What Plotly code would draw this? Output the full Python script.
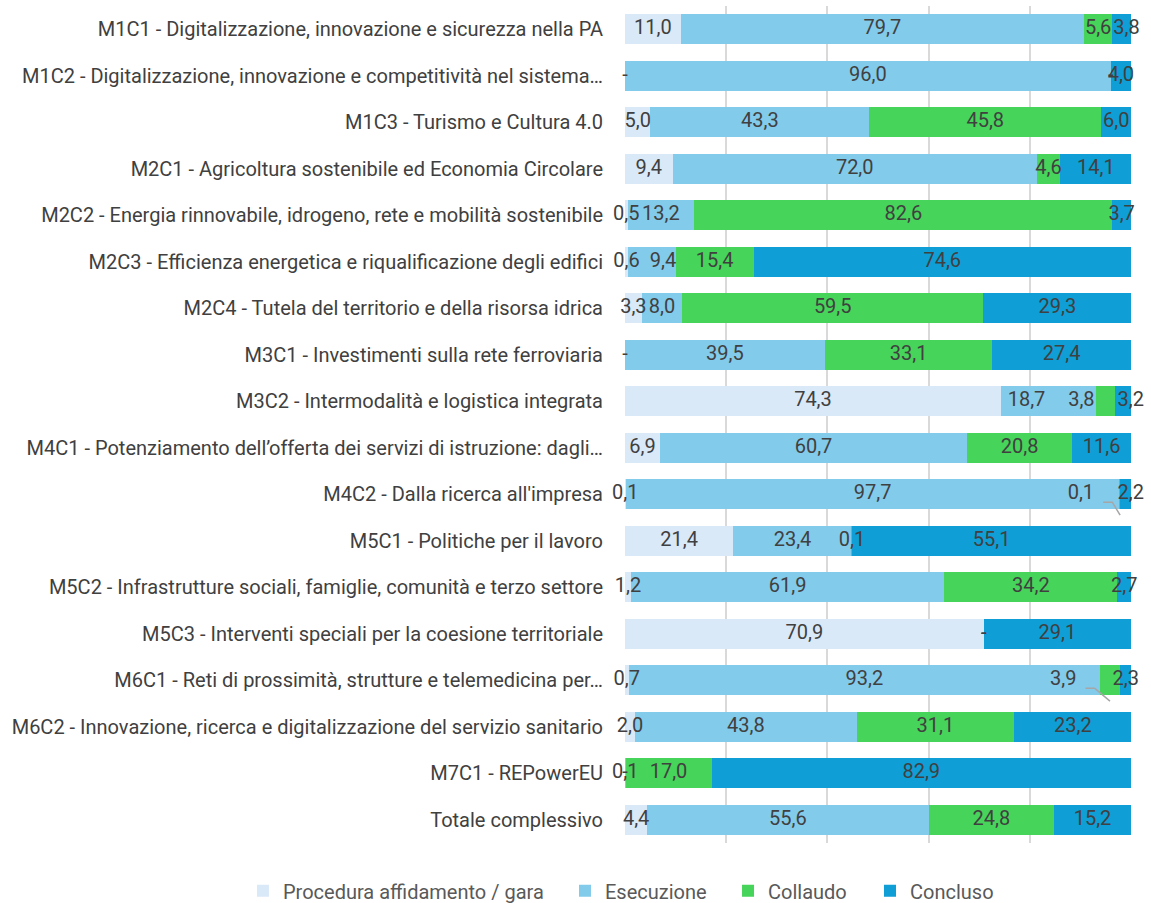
import plotly.graph_objects as go

categories = [
    "M1C1 - Digitalizzazione, innovazione e sicurezza nella PA",
    "M1C2 - Digitalizzazione, innovazione e competitività nel sistema…",
    "M1C3 - Turismo e Cultura 4.0",
    "M2C1 - Agricoltura sostenibile ed Economia Circolare",
    "M2C2 - Energia rinnovabile, idrogeno, rete e mobilità sostenibile",
    "M2C3 - Efficienza energetica e riqualificazione degli edifici",
    "M2C4 - Tutela del territorio e della risorsa idrica",
    "M3C1 - Investimenti sulla rete ferroviaria",
    "M3C2 - Intermodalità e logistica integrata",
    "M4C1 - Potenziamento dell’offerta dei servizi di istruzione: dagli…",
    "M4C2 - Dalla ricerca all'impresa",
    "M5C1 - Politiche per il lavoro",
    "M5C2 - Infrastrutture sociali, famiglie, comunità e terzo settore",
    "M5C3 - Interventi speciali per la coesione territoriale",
    "M6C1 - Reti di prossimità, strutture e telemedicina per…",
    "M6C2 - Innovazione, ricerca e digitalizzazione del servizio sanitario",
    "M7C1 - REPowerEU",
    "Totale complessivo",
]

procedura = [11.0, 0.0, 5.0, 9.4, 0.5, 0.6, 3.3, 0.0, 74.3, 6.9, 0.1, 21.4, 1.2, 70.9, 0.7, 2.0, 0.0, 4.4]
esecuzione = [79.7, 96.0, 43.3, 72.0, 13.2, 9.4, 8.0, 39.5, 18.7, 60.7, 97.7, 23.4, 61.9, 0.0, 93.2, 43.8, 0.1, 55.6]
collaudo = [5.6, 0.0, 45.8, 4.6, 82.6, 15.4, 59.5, 33.1, 3.8, 20.8, 0.1, 0.1, 34.2, 0.0, 3.9, 31.1, 17.0, 24.8]
concluso = [3.8, 4.0, 6.0, 14.1, 3.7, 74.6, 29.3, 27.4, 3.2, 11.6, 2.2, 55.1, 2.7, 29.1, 2.3, 23.2, 82.9, 15.2]

series_names = ["Procedura affidamento / gara", "Esecuzione", "Collaudo", "Concluso"]
series_values = [procedura, esecuzione, collaudo, concluso]

# ---- styling ----
colors = ["#DAE9F8", "#83CBEB", "#47D45A", "#0F9ED5"]
FONT = "Roboto"
TEXT_COLOR = "#404040"
LEGEND_IDS = ["legend", "legend2", "legend3", "legend4"]
LEGEND_X = [-0.755, -0.1186, 0.2036, 0.4842]
# label nudges (in axis % units), mimicking the spreadsheet's moved labels
label_shift = {
    (0, 3): 0.9,
    (5, 1): 2.2,
    (8, 1): -4.3, (8, 2): -4.7, (8, 3): 2.0,
    (10, 2): -7.75, (10, 3): 2.0,
    (14, 2): -9.25,
}
leader_rows = [(10, 2), (14, 2)]
X_MAX_LABEL = 99.95  # points beyond the axis range are hidden by plotly


def fmt(v):
    if v == 0:
        return "-"
    return f"{v:.1f}".replace(".", ",")


n = len(categories)
ypos = list(range(n))

fig = go.Figure()
for name, vals, color, lid in zip(series_names, series_values, colors, LEGEND_IDS):
    fig.add_trace(go.Bar(
        name=name,
        y=ypos,
        x=vals,
        orientation="h",
        marker=dict(color=color, line=dict(width=0)),
        hoverinfo="skip",
        legend=lid,
    ))

# labels drawn on top of all bars
lab_x, lab_y, lab_t = [], [], []
lead_x, lead_y = [], []
for i in range(n):
    cum = 0.0
    for s, vals in enumerate(series_values):
        v = vals[i]
        mid = cum + v / 2
        lx = min(mid + label_shift.get((i, s), 0.0), X_MAX_LABEL)
        lab_x.append(lx)
        lab_y.append(i)
        lab_t.append(fmt(v))
        if (i, s) in leader_rows:
            lead_x += [lx + 4.4, lx + 6.2, mid, None]
            lead_y += [i + 0.17, i + 0.17, i + 0.45, None]
        cum += v

fig.add_trace(go.Scatter(
    x=lead_x, y=lead_y, mode="lines",
    line=dict(color="#A6A6A6", width=1.5),
    showlegend=False, hoverinfo="skip", cliponaxis=False,
))
fig.add_trace(go.Scatter(
    x=lab_x, y=lab_y, mode="text", text=lab_t,
    textposition="middle center",
    textfont=dict(color=TEXT_COLOR, size=20, family=FONT),
    showlegend=False, hoverinfo="skip", cliponaxis=False,
))

legend_common = dict(
    orientation="h",
    xanchor="left",
    y=-0.057, yanchor="middle",
    font=dict(size=20, color="#595959", family=FONT),
    itemwidth=30,
    bgcolor="rgba(0,0,0,0)",
)
legend_layout = {lid: dict(legend_common, x=lx) for lid, lx in zip(LEGEND_IDS, LEGEND_X)}

fig.update_layout(
    barmode="stack",
    bargap=0.35,
    width=1151,
    height=903,
    margin=dict(l=625, r=20, t=6, b=60, autoexpand=False),
    plot_bgcolor="white",
    paper_bgcolor="white",
    font=dict(family=FONT, size=20, color=TEXT_COLOR),
    showlegend=True,
    **legend_layout,
)
fig.update_xaxes(
    range=[0, 100],
    dtick=20,
    showticklabels=False,
    showgrid=True,
    gridcolor="#D9D9D9",
    gridwidth=1.5,
    zeroline=False,
    fixedrange=True,
)
fig.update_yaxes(
    range=[n - 0.5, -0.5],
    tickmode="array",
    tickvals=ypos,
    ticktext=categories,
    ticks="",
    automargin=False,
    ticklabelstandoff=21,
    tickfont=dict(size=20, color=TEXT_COLOR, family=FONT),
    showgrid=False,
    zeroline=False,
    fixedrange=True,
)

fig.write_html(
    "out.html",
    config={"displayModeBar": False},
    post_script="document.body.style.margin='0';",
)
